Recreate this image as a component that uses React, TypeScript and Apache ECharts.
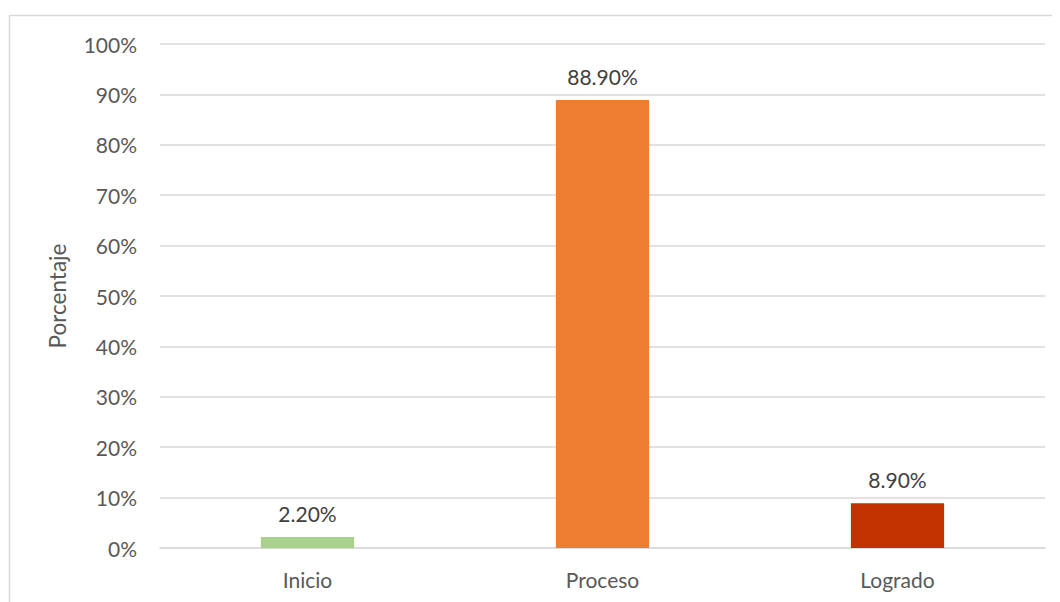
import React, { useEffect, useRef } from "react";
import * as echarts from "echarts";

const categories = ["Inicio", "Proceso", "Logrado"];
const values = [2.2, 88.9, 8.9];
const barColors = ["#a9d18e", "#ed7d31", "#c23100"];
const yTicks = [0, 10, 20, 30, 40, 50, 60, 70, 80, 90, 100];

export default function App() {
  const ref = useRef<HTMLDivElement>(null);
  useEffect(() => {
    if (!ref.current) return;
    const chart = echarts.init(ref.current, undefined, { renderer: "svg" });
    const font = "Lato, 'Open Sans', sans-serif";
    chart.setOption({
      animation: false,
      textStyle: { fontFamily: font },
      graphic: [
        {
          type: "rect",
          shape: { x: 1.5, y: 7.5, width: 1200, height: 800 },
          style: { fill: "none", stroke: "#d9d9d9", lineWidth: 1.5 },
          silent: true,
        },
      ],
      grid: { left: 152, right: 15, top: 36, bottom: 54 },
      xAxis: {
        type: "category",
        data: categories,
        axisLine: { lineStyle: { color: "#d9d9d9", width: 1.5 } },
        axisTick: { show: false },
        axisLabel: { color: "#595959", fontSize: 21, fontFamily: font, margin: 21 },
      },
      yAxis: {
        type: "value",
        min: yTicks[0],
        max: yTicks[yTicks.length - 1],
        interval: 10,
        name: "Porcentaje",
        nameLocation: "middle",
        nameGap: 91,
        nameTextStyle: { color: "#595959", fontSize: 22.5, fontFamily: font },
        axisLine: { show: false },
        axisTick: { show: false },
        splitLine: { lineStyle: { color: "#d9d9d9", width: 1.5 } },
        axisLabel: {
          color: "#595959",
          fontSize: 21,
          fontFamily: font,
          margin: 23,
          formatter: (v: number) => v + "%",
        },
      },
      series: [
        {
          type: "bar",
          barWidth: "31.6%",
          data: values.map((v, i) => ({ value: v, itemStyle: { color: barColors[i] } })),
          label: {
            show: true,
            position: "top",
            distance: 13,
            color: "#404040",
            fontSize: 21,
            fontFamily: font,
            formatter: (p: any) => p.value.toFixed(2) + "%",
          },
        },
      ],
    });
    return () => chart.dispose();
  }, []);
  return <div ref={ref} style={{ width: 1052, height: 594 }} />;
}
